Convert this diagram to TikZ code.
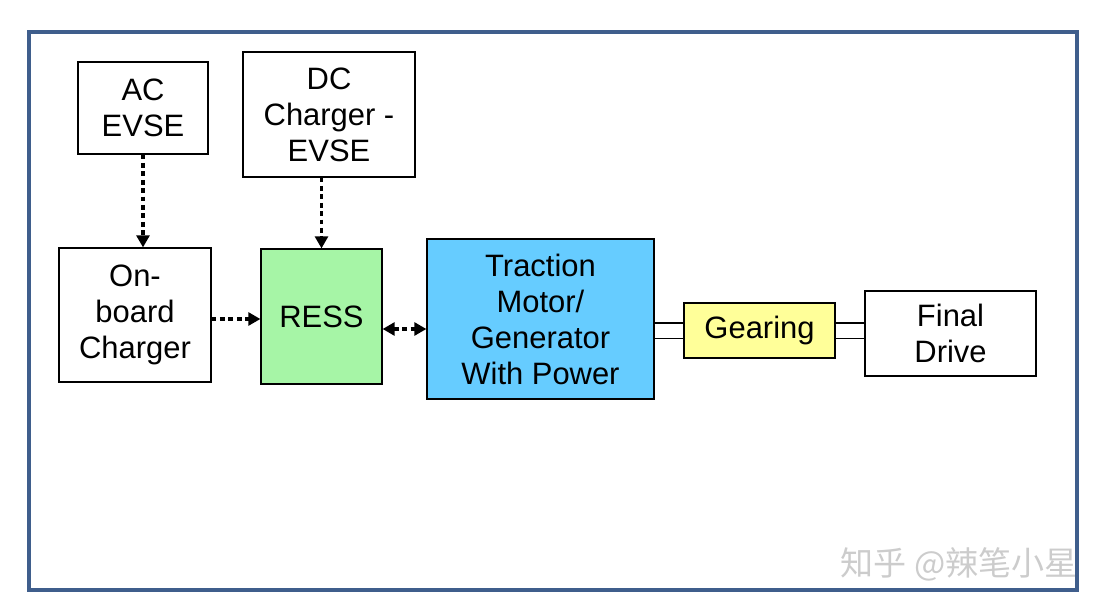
\documentclass[tikz,border=0pt]{standalone}
\usepackage{fontspec}
\setmainfont{Liberation Sans}
\newfontfamily\cjkfont{Noto Sans CJK SC}
\usetikzlibrary{arrows.meta,positioning,calc}
\definecolor{EvFrame}{HTML}{3F5E8C}
\definecolor{EvGreen}{HTML}{A6F5A6}
\definecolor{EvBlue}{HTML}{66CCFF}
\definecolor{EvYellow}{HTML}{FFFF99}

\begin{document}
\begin{tikzpicture}[x=0.025cm,y=-0.025cm,
    every node/.style={font=\fontsize{22}{25.6}\selectfont,align=center,inner sep=0pt},
    blk/.style={draw,line width=0.8pt,fill=white},
    dotarrow/.style={line width=2.6pt,dash pattern=on 0.12cm off 0.09cm,-{Triangle[length=0.3cm,width=0.32cm]}},
    shaft/.style={double,double distance=0.35cm,line width=0.8pt}]
    \useasboundingbox (0,0) rectangle (1108,611);
    \draw[EvFrame,line width=0.1cm] (29,32) rectangle (1077,590);
    % boxes
    \node[blk,minimum width=3.25cm,minimum height=2.3cm] (ac) at (143,108) {AC\\EVSE};
    \node[blk,minimum width=4.3cm,minimum height=3.125cm] (dc) at (329,114.5) {DC\\Charger -\\EVSE};
    \node[blk,minimum width=3.8cm,minimum height=3.35cm] (onb) at (135,315) {On-\\board\\Charger};
    \node[blk,fill=EvGreen,minimum width=3.025cm,minimum height=3.375cm] (ress) at (321.5,316.5) {RESS};
    \node[blk,fill=EvBlue,minimum width=5.675cm,minimum height=4cm] (trac) at (540.5,319) {Traction\\Motor/\\Generator\\With Power};
    \node[blk,fill=EvYellow,minimum width=3.775cm,minimum height=1.375cm] (gear) at (759.5,330.5) {Gearing};
    \node[blk,minimum width=4.275cm,minimum height=2.125cm] (fin) at (950.5,333.5) {Final\\Drive};
    \coordinate (rowA) at (0,319);
    \coordinate (rowB) at (0,329);
    % dotted power paths
    \draw[dotarrow] (ac.south) -- (ac.south |- onb.north);
    \draw[dotarrow] (ress.north |- dc.south) -- (ress.north);
    \draw[dotarrow] (onb.east |- rowA) -- (ress.west |- rowA);
    \draw[dotarrow,{Triangle[length=0.3cm,width=0.32cm]}-{Triangle[length=0.3cm,width=0.32cm]}] (ress.east |- rowB) -- (trac.west |- rowB);
    % mechanical shafts
    \foreach \x/\y in {trac/gear,gear/fin}{\draw[shaft] (\x.east |- gear) -- (\y.west |- gear);}
    \node[font=\cjkfont\fontsize{23.5}{26}\selectfont,text=gray!40] (wm) at (959,564) {知乎 @辣笔小星};
\end{tikzpicture}
\end{document}
